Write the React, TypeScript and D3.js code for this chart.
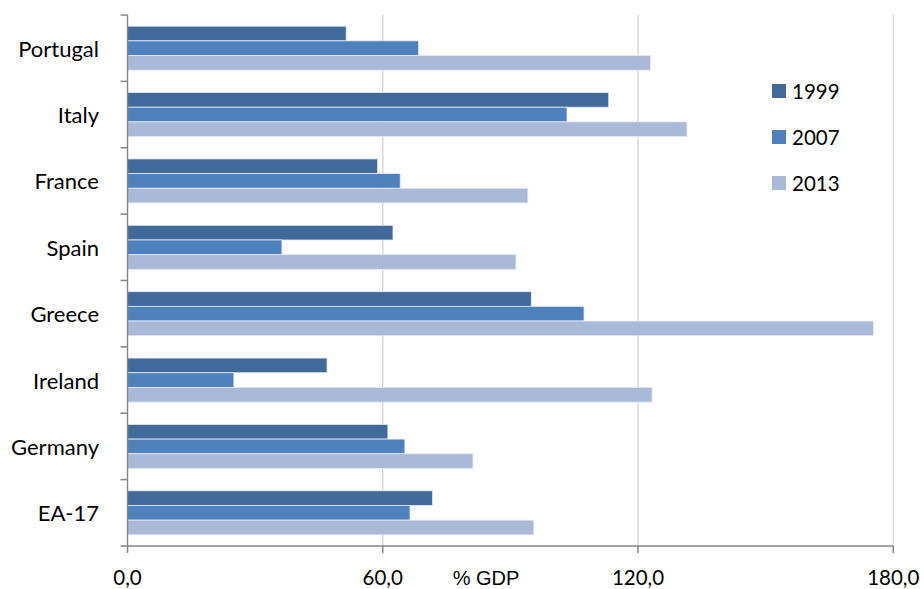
import React from "react";
import * as d3 from "d3";

const categories = ["Portugal", "Italy", "France", "Spain", "Greece", "Ireland", "Germany", "EA-17"];
const seriesNames = ["1999", "2007", "2013"];
const values1999 = [51.4, 113.1, 58.8, 62.4, 94.9, 46.9, 61.2, 71.7];
const values2007 = [68.4, 103.3, 64.1, 36.3, 107.3, 25.0, 65.2, 66.4];
const values2013 = [122.9, 131.5, 94.1, 91.3, 175.3, 123.3, 81.2, 95.5];
const xTicks = [0, 60, 120, 180];
const colors = ["#416A9B", "#4F81BD", "#AAB9D7"];

export default function App() {
  const W = 924, H = 589;
  const left = 127.5, right = 893.3, top = 15, bottom = 546;
  const x = d3.scaleLinear().domain([0, 180]).range([left, right]);
  const y = d3.scaleBand<string>().domain(categories).range([top, bottom]).paddingInner(0.337).paddingOuter(0.1685);
  const series = [values1999, values2007, values2013];
  const inner = d3.scaleBand<string>().domain(seriesNames).range([0, y.bandwidth()]);
  const step = (bottom - top) / categories.length;
  const fmt = (v: number) => v.toFixed(1).replace(".", ",");
  const font = "Lato, 'Open Sans', sans-serif";
  return (
    <svg width={W} height={H} style={{ position: "absolute", left: 0, top: 0, background: "#fff" }}>
      {xTicks.slice(1).map((t) => (
        <line key={t} x1={x(t)} x2={x(t)} y1={top} y2={bottom} stroke="#D9D9D9" strokeWidth={1.5} />
      ))}
      {categories.map((c, i) =>
        series.map((s, j) => (
          <rect
            key={c + j}
            x={x(0)}
            y={(y(c) as number) + (inner(seriesNames[j]) as number)}
            width={x(s[i]) - x(0)}
            height={inner.bandwidth()}
            fill={colors[j]}
            stroke="#E4EAF3"
            strokeWidth={0.8}
          />
        ))
      )}
      {/* y axis */}
      <line x1={left} x2={left} y1={top} y2={bottom} stroke="#868686" strokeWidth={1.5} />
      {d3.range(categories.length + 1).map((k) => (
        <line key={k} x1={left - 7} x2={left} y1={top + k * step} y2={top + k * step} stroke="#868686" strokeWidth={1.5} />
      ))}
      {categories.map((c) => (
        <text key={c} x={99} y={(y(c) as number) + y.bandwidth() / 2} textAnchor="end" dominantBaseline="central"
          fontFamily={font} fontSize={22} fill="#000">{c}</text>
      ))}
      {/* x axis */}
      <line x1={left} x2={right} y1={bottom} y2={bottom} stroke="#868686" strokeWidth={1.5} />
      {xTicks.map((t) => (
        <g key={t}>
          <line x1={x(t)} x2={x(t)} y1={bottom} y2={bottom + 7} stroke="#868686" strokeWidth={1.5} />
          <text x={x(t)} y={577} textAnchor="middle" dominantBaseline="central" fontFamily={font} fontSize={20.5} fill="#000">{fmt(t)}</text>
        </g>
      ))}
      <text x={486} y={578} textAnchor="middle" dominantBaseline="central" fontFamily="'Liberation Sans', Arial, sans-serif" fontSize={20} fill="#000">% GDP</text>
      {/* legend */}
      {seriesNames.map((n, j) => (
        <g key={n} transform={`translate(772, ${84 + j * 46})`}>
          <rect width={14} height={14} fill={colors[j]} />
          <text x={20} y={7} dominantBaseline="central" fontFamily={font} fontSize={20.5} fill="#000">{n}</text>
        </g>
      ))}
    </svg>
  );
}
